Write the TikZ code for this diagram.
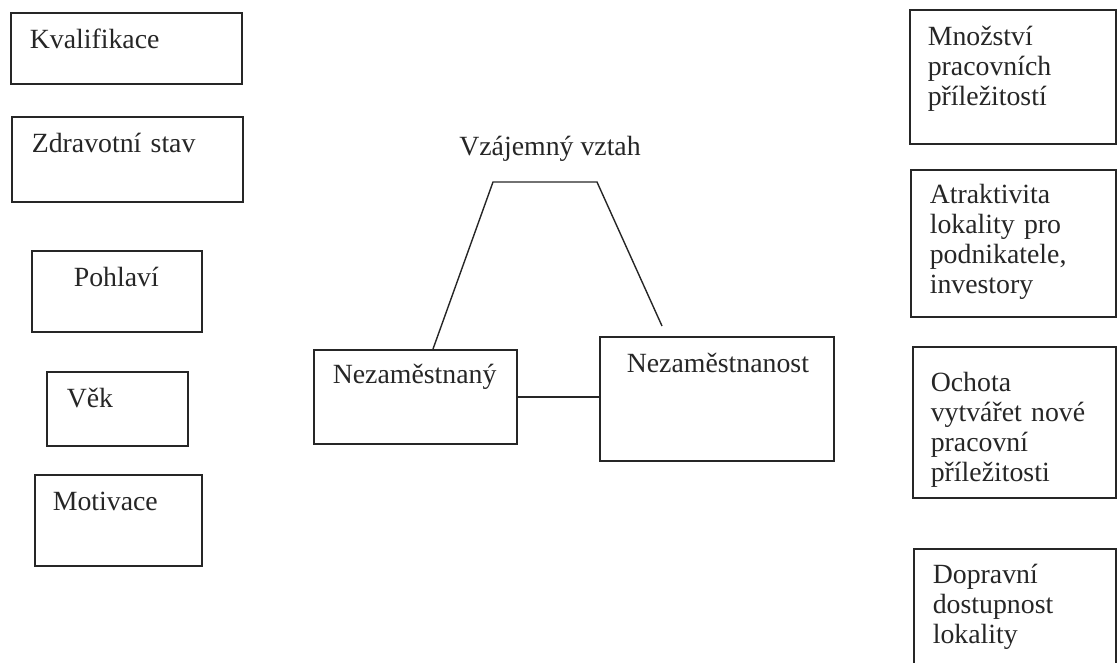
\documentclass[tikz,border=0pt]{standalone}
\usepackage{fontspec}
\setmainfont{Liberation Serif}
\usetikzlibrary{calc}
\definecolor{inkgray}{HTML}{262626}

\begin{document}
\begin{tikzpicture}[x=1pt, y=-1pt,
    box/.style={draw=inkgray, line width=1.6pt, anchor=north west, align=left,
      inner ysep=0pt, text height=36pt, text=inkgray,
      font=\fontsize{27.8}{30}\selectfont},
    link/.style={draw=inkgray, line width=1.4pt}]
  \useasboundingbox (0,0) rectangle (1117,663);

  % left column
  \node[box, inner xsep=19pt, text width=193pt, text depth=35pt] (kval) at (10,12) {Kvalifikace};
  \node[box, inner xsep=20pt, text width=191pt, text depth=49pt] (zdrav) at (11,116) {Zdravotní stav};
  \node[box, inner xsep=42pt, text width=86pt, text depth=45pt] (pohl) at (31,250) {Pohlaví};
  \node[box, inner xsep=20pt, text width=101pt, text depth=38pt] (vek) at (46,371) {Věk};
  \node[box, inner xsep=18pt, text width=131pt, text depth=55pt] (motiv) at (34,474) {Motivace};

  % middle
  \node[box, inner xsep=19pt, text width=165pt, text height=34pt, text depth=60pt] (nez) at (313,349) {Nezaměstnaný};
  \node[box, inner xsep=27pt, text width=180pt, text depth=88pt] (nost) at (599,336) {Nezaměstnanost};
  \node[anchor=base, text=inkgray, font=\fontsize{27.8}{30}\selectfont] (vztah) at (550,156) {Vzájemný vztah};
  \coordinate (tl) at (493,182);
  \coordinate (tr) at (597,182);
  \coordinate (rend) at (662,326);
  \draw[link] ($(nez.north west)+(120,0)$) -- (tl) -- (tr) -- (rend);
  \draw[link] (nez.east) -- (nez.east -| nost.west);

  % right column
  \node[box, inner xsep=18pt, text width=170pt, text depth=98pt] (mnoz) at (909,9) {Množství\\pracovních\\příležitostí};
  \node[box, inner xsep=19pt, text width=167pt, text height=34pt, text depth=113pt] (atrak) at (910,169) {Atraktivita\\lokality pro\\podnikatele,\\investory};
  \node[box, inner xsep=18pt, text width=167pt, text height=45pt, text depth=106pt] (ochota) at (912,346) {Ochota\\vytvářet nové\\pracovní\\příležitosti};
  \node[box, inner xsep=19pt, text width=164pt, text height=35pt, text depth=105pt] (doprav) at (913,548) {Dopravní\\dostupnost\\lokality};
\end{tikzpicture}
\end{document}
